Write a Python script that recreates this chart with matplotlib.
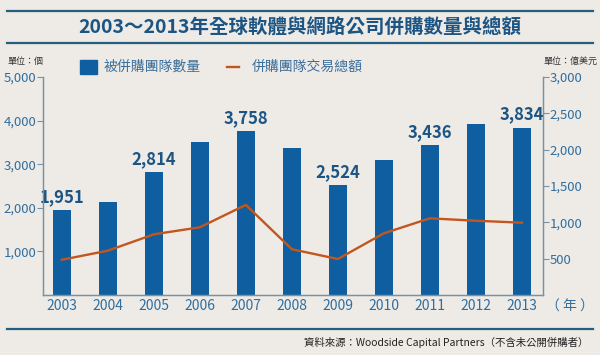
import matplotlib
matplotlib.use("Agg")
import matplotlib.pyplot as plt
from matplotlib.lines import Line2D
from matplotlib.patches import Rectangle

plt.rcParams['font.family'] = ['Noto Sans CJK TC', 'DejaVu Sans']

# data
years = ['2003', '2004', '2005', '2006', '2007', '2008', '2009', '2010', '2011', '2012', '2013']
deals = [1951, 2135, 2814, 3510, 3758, 3370, 2524, 3100, 3436, 3915, 3834]
amount = [485, 610, 835, 932, 1240, 630, 495, 849, 1055, 1022, 995]
labelled = [1951, None, 2814, None, 3758, None, 2524, None, 3436, None, 3834]
left_ticks = [1000, 2000, 3000, 4000, 5000]
right_ticks = [500, 1000, 1500, 2000, 2500, 3000]

BG = '#eeebe7'
BAR = '#0f5fa0'
LINE = '#c2561f'
TICK = '#2f6e9f'
SPINE = '#7a90a4'
DARK = '#1c5583'

fig = plt.figure(figsize=(6, 3.55), dpi=100, facecolor=BG)

# title with rules above and below
fig.add_artist(Line2D([7/600, 593/600], [1-11/355, 1-11/355], color='#245f80', lw=1.6))
fig.add_artist(Line2D([7/600, 593/600], [1-43/355, 1-43/355], color='#245f80', lw=1.6))
fig.text(0.5, 1-28/355, '2003～2013年全球軟體與網路公司併購數量與總額',
         ha='center', va='center', fontsize=14, fontweight='bold', color=DARK)

ax = fig.add_axes([43/600, 1-295/355, 500/600, 218/355])
ax.set_facecolor(BG)
x = list(range(len(years)))
ax.bar(x, deals, width=0.39, color=BAR, zorder=2)
ax.set_xlim(-0.41, 10.46)
ax.set_ylim(0, 5000)
ax.set_yticks(left_ticks)
ax.set_yticklabels(['{:,}'.format(v) for v in left_ticks])
ax.set_xticks(x)
ax.set_xticklabels(years)
ax.tick_params(axis='x', length=0, pad=3, labelsize=10, labelcolor=TICK)
ax.tick_params(axis='y', length=4, width=0.8, color=SPINE, pad=1, labelsize=9.5, labelcolor=TICK)
for s in ['left', 'bottom', 'right']:
    ax.spines[s].set_color(SPINE)
    ax.spines[s].set_linewidth(0.9)
ax.spines['top'].set_visible(False)

for i, v in enumerate(labelled):
    if v is not None:
        ax.annotate('{:,}'.format(v), (i, v), xytext=(0, 3), textcoords='offset points',
                    ha='center', va='bottom', fontsize=12, fontweight='bold', color=DARK,
                    zorder=5, annotation_clip=False)

ax2 = ax.twinx()
ax2.plot(x, amount, color=LINE, lw=1.7, zorder=3)
ax2.set_ylim(0, 3000)
ax2.set_yticks(right_ticks)
ax2.set_yticklabels(['{:,}'.format(v) for v in right_ticks])
ax2.tick_params(axis='y', length=4, width=0.8, color=SPINE, pad=1, labelsize=9.5, labelcolor=TICK)
for s in ['left', 'bottom', 'right']:
    ax2.spines[s].set_color(SPINE)
    ax2.spines[s].set_linewidth(0.9)
ax2.spines['top'].set_visible(False)

# units
fig.text(7/600, 1-61/355, '單位：個', fontsize=6.5, color='#333333', va='center')
fig.text(597/600, 1-61/355, '單位：億美元', fontsize=6.5, color='#333333', va='center', ha='right')
fig.text(546/600, 1-307/355, '（ 年 ）', fontsize=10, color=TICK, va='center')

# legend
fig.add_artist(Rectangle((80/600, 1-74/355), 17/600, 14/355, color=BAR, transform=fig.transFigure))
fig.text(104/600, 1-67/355, '被併購團隊數量', fontsize=10, color='#3a6f9c', va='center')
fig.add_artist(Line2D([227/600, 239/600], [1-67/355, 1-67/355], color=LINE, lw=1.7))
fig.text(252/600, 1-67/355, '併購團隊交易總額', fontsize=10, color='#3a6f9c', va='center')

# footer
fig.add_artist(Line2D([7/600, 593/600], [1-329/355, 1-329/355], color='#245f80', lw=1.6))
fig.text(588/600, 1-342/355, '資料來源：Woodside Capital Partners（不含未公開併購者）',
         fontsize=7.5, color='#222222', ha='right', va='center')

fig.savefig('out.png', dpi=100, facecolor=BG)
